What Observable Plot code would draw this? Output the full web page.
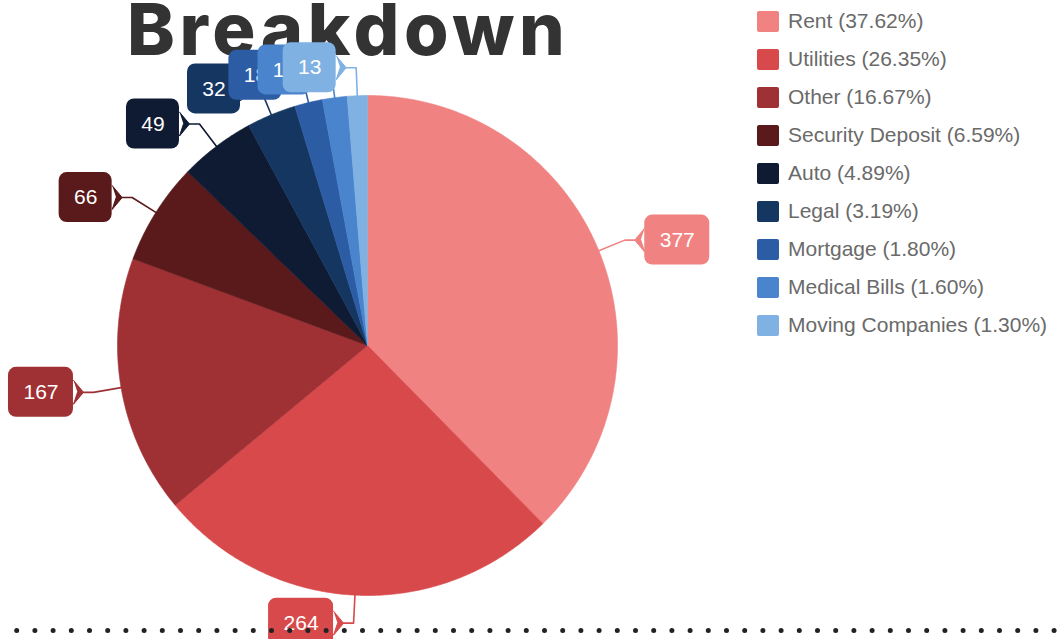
<!DOCTYPE html>
<html>
<head>
<meta charset="utf-8">
<script src="https://cdn.jsdelivr.net/npm/d3@7"></script>
<script src="https://cdn.jsdelivr.net/npm/@observablehq/plot@0.6"></script>
<style>
  html, body { margin: 0; padding: 0; background: #fff; }
  #wrap { position: relative; width: 1058px; height: 639px; overflow: hidden; background: #fff; }
  #title { position: absolute; left: 127px; top: -7px; font-family: Inter, sans-serif; font-weight: 800; font-size: 72px; line-height: 72px; color: #333; letter-spacing: 4.6px; white-space: nowrap; }
  #chart { position: absolute; left: 0; top: 0; }
  #chart svg { background: transparent !important; }
  #legend { position: absolute; left: 757px; top: 2px; font-family: "Liberation Sans", Arial, sans-serif; font-size: 21px; color: #6a6a6a; }
  .row { height: 38px; display: flex; align-items: center; white-space: nowrap; }
  .sw { width: 22px; height: 21px; border-radius: 2px; margin-right: 9px; flex: none; }
</style>
</head>
<body>
<div id="wrap">
  <div id="title">Breakdown</div>
  <div id="chart"></div>
  <div id="legend"></div>
</div>
<script>
// ---- data ----
const categories = ["Rent", "Utilities", "Other", "Security Deposit", "Auto", "Legal", "Mortgage", "Medical Bills", "Moving Companies"];
const values = [377, 264, 167, 66, 49, 32, 18, 16, 13];
const percentLabels = ["37.62%", "26.35%", "16.67%", "6.59%", "4.89%", "3.19%", "1.80%", "1.60%", "1.30%"];
const colors = ["#f08282", "#d8494b", "#9f3135", "#5a191a", "#0f1a33", "#163662", "#2b5ca4", "#4a84cc", "#80b1e3"];

// ---- layout ----
const W = 1058, H = 639;
const R = 250, CX = 367, CY = 345; // pie radius & center in px
const u = px => px / R;

const data = categories.map((name, i) => ({name, value: values[i], color: colors[i], pct: percentLabels[i]}));
const arcs = d3.pie().sort(null).value(d => d.value)(data);

// slice polygons (unit circle, angle clockwise from 12 o'clock)
const slices = arcs.map(a => {
  const pts = [{x: 0, y: 0}];
  const n = Math.max(2, Math.ceil((a.endAngle - a.startAngle) / (Math.PI / 360)));
  for (let k = 0; k <= n; k++) {
    const t = a.startAngle + (a.endAngle - a.startAngle) * k / n;
    pts.push({x: Math.sin(t), y: Math.cos(t)});
  }
  pts.push({x: 0, y: 0});
  return {name: a.data.name, color: a.data.color, pts};
});

// callout labels
const labels = arcs.map(a => {
  const m = (a.startAngle + a.endAngle) / 2;
  const s = Math.sin(m), c = Math.cos(m);
  const side = s >= 0 ? 1 : -1;
  const p0 = {x: s, y: c};
  const p1 = {x: s * (1 + u(28)), y: c * (1 + u(28))};
  const tip = {x: p1.x + side * u(10), y: p1.y};
  const edge = tip.x + side * u(10);
  const txt = String(a.data.value);
  const w = u(txt.length >= 3 ? 65 : 53);
  const h = u(50);
  const bx1 = side > 0 ? edge : edge - w;
  const bx2 = side > 0 ? edge + w : edge;
  return {
    name: a.data.name, color: a.data.color, text: txt,
    leader: [p0, p1, tip],
    pointer: [{x: edge, y: tip.y + u(12)}, tip, {x: edge, y: tip.y - u(12)}, {x: edge - side * u(4), y: tip.y}],
    box: {x1: bx1, x2: bx2, y1: tip.y - h / 2, y2: tip.y + h / 2, cx: (bx1 + bx2) / 2, cy: tip.y}
  };
});

const marks = [];
for (const sl of slices) {
  marks.push(Plot.line(sl.pts, {x: "x", y: "y", fill: sl.color, stroke: sl.color, strokeWidth: 0.6, curve: "linear"}));
}
for (const lb of labels) {
  marks.push(Plot.line(lb.leader, {x: "x", y: "y", stroke: lb.color, strokeWidth: 1.6, curve: "linear"}));
  marks.push(Plot.line(lb.pointer, {x: "x", y: "y", fill: lb.color, stroke: lb.color, strokeWidth: 1, strokeLinejoin: "round", curve: "linear"}));
  marks.push(Plot.rect([lb.box], {x1: "x1", x2: "x2", y1: "y1", y2: "y2", fill: lb.color, rx: 8}));
  marks.push(Plot.text([lb.box], {x: "cx", y: "cy", text: () => lb.text, fill: "white", fontSize: 21, fontFamily: "Liberation Sans, Arial, sans-serif"}));
}
// dotted separator line
marks.push(Plot.ruleY([u(CY - 630)], {stroke: "#222", strokeWidth: 5, strokeLinecap: "round", strokeDasharray: "0 18.2", strokeDashoffset: 1.5}));

const chart = Plot.plot({
  width: W, height: H,
  margin: 0,
  x: {domain: [u(-CX), u(W - CX)], range: [0, W], axis: null},
  y: {domain: [u(CY), u(CY - H)], range: [0, H], axis: null},
  style: {background: "transparent", overflow: "visible"},
  marks
});
document.getElementById("chart").appendChild(chart);

// legend
const legend = document.getElementById("legend");
data.forEach(d => {
  const row = document.createElement("div");
  row.className = "row";
  const sw = document.createElement("div");
  sw.className = "sw";
  sw.style.background = d.color;
  const t = document.createElement("span");
  t.textContent = `${d.name} (${d.pct})`;
  row.appendChild(sw); row.appendChild(t);
  legend.appendChild(row);
});
</script>
</body>
</html>
